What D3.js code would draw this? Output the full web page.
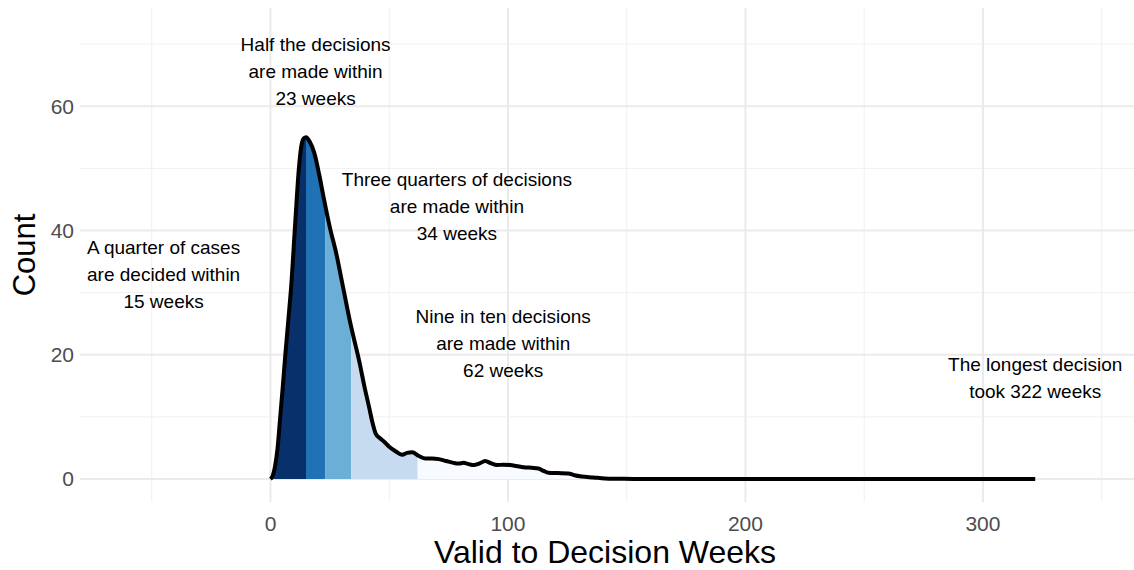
<!DOCTYPE html>
<html>
<head>
<meta charset="utf-8">
<script src="https://cdn.jsdelivr.net/npm/d3@7"></script>
<style>
  body { margin: 0; background: #fff; }
  text { font-family: "Liberation Sans", Arial, sans-serif; }
</style>
</head>
<body>
<svg width="1134" height="570"></svg>
<script>
// density of decision times, scaled to counts
const weeks = [0, 1, 1.9, 3, 4, 5, 6.3, 7.5, 8.7, 10.5, 11.9, 12.9, 14, 15, 16.5, 18.5, 20.5, 22.6,
  25, 27.7, 30.5, 33.8, 35.5, 37.3, 39.5, 41.5, 43, 44.3, 46, 47.9, 50, 52.5, 55.5, 57.5, 59.7,
  62.5, 65.3, 68, 70.9, 74, 77.1, 79.2, 81.3, 83.5, 85.5, 88, 90.4, 93, 95.3, 98, 100.9, 103.5,
  106.5, 110, 112.8, 115, 117, 121, 125.4, 128, 131, 136, 140.8, 147, 155, 170, 200, 250, 300, 322];
const counts = [0, 0.6, 2.0, 5, 9.5, 14, 20.2, 25.5, 30.9, 41.7, 49.7, 53.4, 54.8, 55.0, 54.3, 52.4, 49, 44.9,
  40.5, 36.3, 31, 24.8, 22, 19.1, 15, 11.6, 9, 7.3, 6.6, 6.0, 5.2, 4.5, 3.9, 4.2, 4.3,
  3.7, 3.3, 3.3, 3.2, 2.9, 2.6, 2.5, 2.6, 2.4, 2.25, 2.5, 2.9, 2.5, 2.25, 2.3, 2.25, 2.1,
  1.9, 1.8, 1.7, 1.3, 1.0, 0.95, 0.9, 0.6, 0.4, 0.25, 0.1, 0.05, 0, 0, 0, 0, 0, 0];

// quantile breaks: 25%, 50%, 75%, 90%, max
const breaks = [0, 15, 23, 34, 62, 322];
const bandColors = ['#08306b', '#2171b5', '#6baed6', '#c6dbef', '#f7fbff'];

const xTicks = [0, 100, 200, 300];
const xMinor = [-50, 50, 150, 250, 350];
const yTicks = [0, 20, 40, 60];
const yMinor = [10, 30, 50, 70];

const noteText = [
  ['Half the decisions', 'are made within', '23 weeks'],
  ['Three quarters of decisions', 'are made within', '34 weeks'],
  ['A quarter of cases', 'are decided within', '15 weeks'],
  ['Nine in ten decisions', 'are made within', '62 weeks'],
  ['The longest decision', 'took 322 weeks']
];
const noteX = [19, 78.5, -45, 98, 322];
const noteY = [65.6, 43.8, 33, 21.9, 16.3];

const svg = d3.select('svg');
const pLeft = 80, pRight = 1134, pTop = 8, pBottom = 502;

const x = d3.scaleLinear().domain([-80.2, 363.6]).range([pLeft, pRight]);
const y = d3.scaleLinear().domain([-3.7, 75.8]).range([pBottom, pTop]);

const data = weeks.map((w, i) => ({w, c: counts[i]}));

// grid
const grid = svg.append('g');
grid.selectAll('.ymin').data(yMinor).enter().append('line')
  .attr('x1', pLeft).attr('x2', pRight)
  .attr('y1', d => y(d)).attr('y2', d => y(d))
  .attr('stroke', '#f0f0f0').attr('stroke-width', 1);
grid.selectAll('.xmin').data(xMinor).enter().append('line')
  .attr('y1', pTop).attr('y2', pBottom)
  .attr('x1', d => x(d)).attr('x2', d => x(d))
  .attr('stroke', '#f0f0f0').attr('stroke-width', 1);
grid.selectAll('.ymaj').data(yTicks).enter().append('line')
  .attr('x1', pLeft).attr('x2', pRight)
  .attr('y1', d => y(d)).attr('y2', d => y(d))
  .attr('stroke', '#ebebeb').attr('stroke-width', 2);
grid.selectAll('.xmaj').data(xTicks).enter().append('line')
  .attr('y1', pTop).attr('y2', pBottom)
  .attr('x1', d => x(d)).attr('x2', d => x(d))
  .attr('stroke', '#ebebeb').attr('stroke-width', 2);

// filled bands
const area = d3.area()
  .x(d => x(d.w)).y0(y(0)).y1(d => y(d.c))
  .curve(d3.curveMonotoneX);

const defs = svg.append('defs');
bandColors.forEach((col, i) => {
  defs.append('clipPath').attr('id', 'band' + i)
    .append('rect')
    .attr('x', x(breaks[i])).attr('width', x(breaks[i + 1]) - x(breaks[i]))
    .attr('y', pTop).attr('height', pBottom - pTop);
  svg.append('path')
    .datum(data)
    .attr('d', area)
    .attr('fill', col)
    .attr('clip-path', `url(#band${i})`);
});

const line = d3.line()
  .x(d => x(d.w)).y(d => y(d.c))
  .curve(d3.curveMonotoneX);

svg.append('path')
  .datum(data)
  .attr('d', line)
  .attr('fill', 'none')
  .attr('stroke', '#000')
  .attr('stroke-width', 4)
  .attr('stroke-linejoin', 'round');

// axes labels
svg.append('g').selectAll('text').data(yTicks).enter().append('text')
  .attr('x', 74).attr('y', d => y(d)).attr('dy', '0.35em')
  .attr('text-anchor', 'end')
  .attr('font-size', 21).attr('fill', '#4d4d4d')
  .text(d => d);

svg.append('g').selectAll('text').data(xTicks).enter().append('text')
  .attr('x', d => x(d)).attr('y', 531)
  .attr('text-anchor', 'middle')
  .attr('font-size', 21).attr('fill', '#4d4d4d')
  .text(d => d);

svg.append('text')
  .attr('x', 605).attr('y', 563)
  .attr('text-anchor', 'middle')
  .attr('font-size', 32).attr('fill', '#000')
  .text('Valid to Decision Weeks');

svg.append('text')
  .attr('transform', 'translate(35,255) rotate(-90)')
  .attr('text-anchor', 'middle')
  .attr('font-size', 31).attr('fill', '#000')
  .text('Count');

// annotations
noteText.forEach((lines, i) => {
  const t = svg.append('text')
    .attr('text-anchor', 'middle')
    .attr('font-size', 19).attr('fill', '#000');
  const mid = (lines.length - 1) / 2;
  lines.forEach((s, j) => {
    t.append('tspan')
      .attr('x', x(noteX[i]))
      .attr('y', y(noteY[i]) + (j - mid) * 27)
      .attr('dy', '0.35em')
      .text(s);
  });
});
</script>
</body>
</html>
